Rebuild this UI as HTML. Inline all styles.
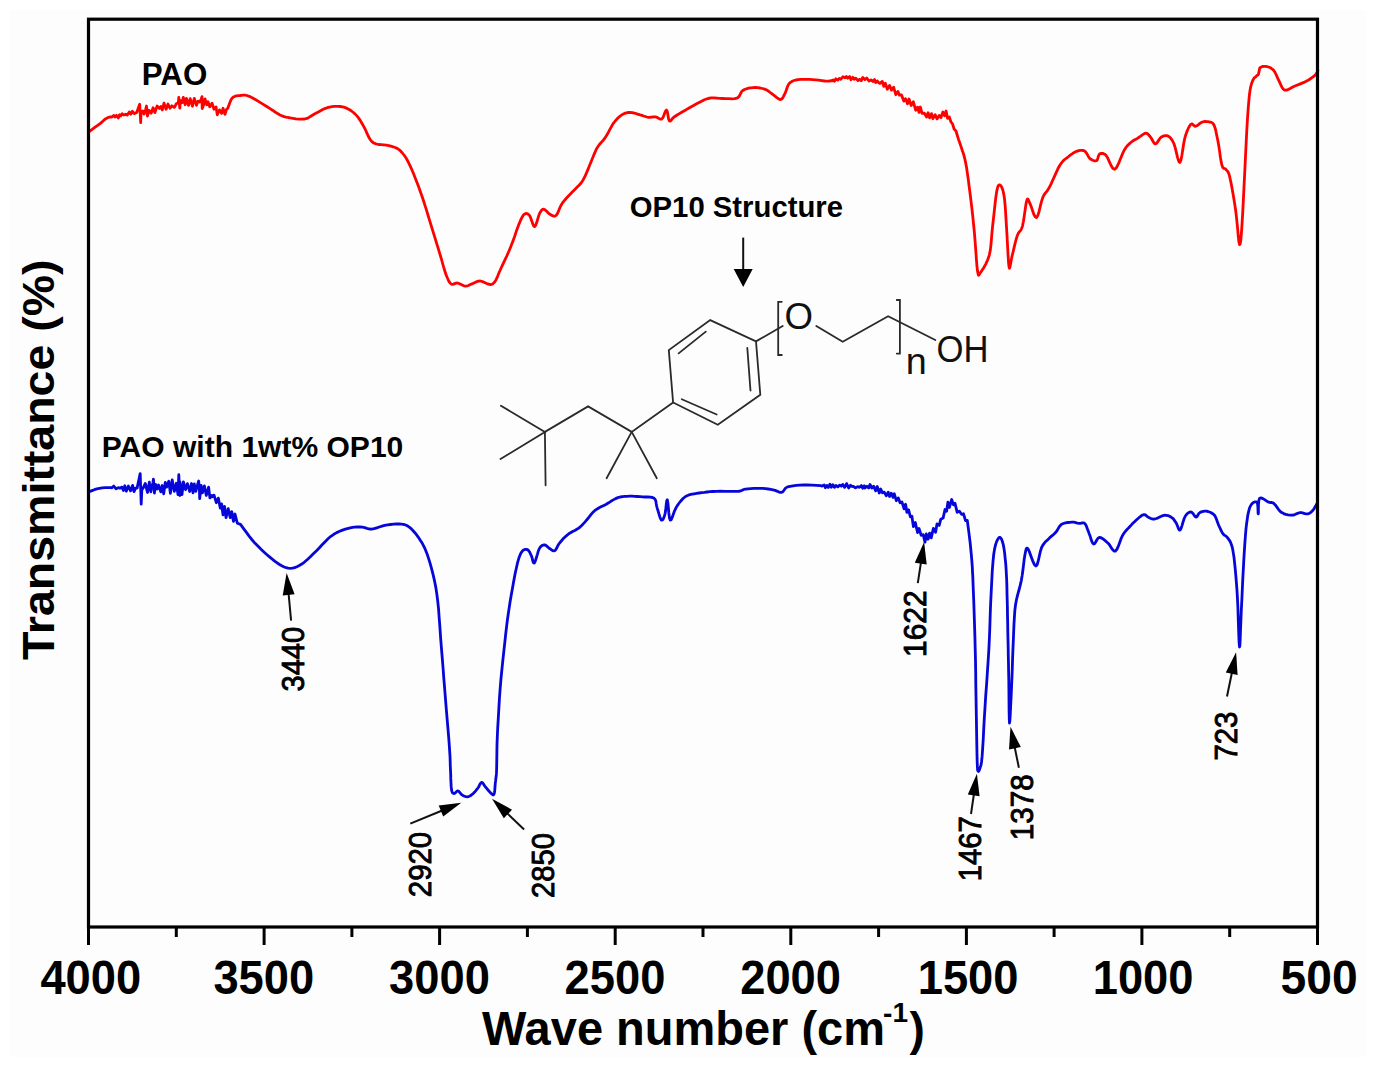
<!DOCTYPE html>
<html><head><meta charset="utf-8"><style>
html,body{margin:0;padding:0;background:#fff;}
svg{display:block;}
</style></head><body>
<svg width="1376" height="1073" viewBox="0 0 1376 1073">
<rect x="0" y="0" width="1376" height="1073" fill="#fff"/><rect x="10" y="10" width="1357" height="1047" fill="#fdfdfd"/>
<g font-family="'Liberation Sans', sans-serif" font-weight="bold" fill="#000">
<text x="141.8" y="84.8" textLength="65.5" lengthAdjust="spacingAndGlyphs" font-size="31">PAO</text>
<text x="101.8" y="457.4" textLength="301.5" lengthAdjust="spacingAndGlyphs" font-size="30">PAO with 1wt% OP10</text>
<text x="629.8" y="217" textLength="213.2" lengthAdjust="spacingAndGlyphs" font-size="29">OP10 Structure</text>
</g>
<path d="M88.6 132.0L90.2 130.8L92.5 129.1L95.1 127.2L97.7 125.3L100.0 123.6L101.8 122.2L103.3 120.8L104.7 119.5L106.3 118.4L108.1 117.5L110.3 116.9L112.0 117.0L113.9 115.4L115.2 117.0L116.5 115.3L118.3 118.0L119.6 114.7L120.9 115.9L122.2 113.7L123.7 115.0L125.5 114.2L127.2 115.1L129.3 112.0L130.8 114.2L132.4 111.3L134.4 113.6L136.7 112.4L139.7 104.2L140.7 122.6L141.0 113.2L142.7 110.9L144.0 114.0L145.5 110.3L146.5 106.0L147.1 112.8L147.5 116.0L149.0 110.3L151.1 113.2L153.1 107.8L154.9 112.6L157.1 106.0L159.4 108.4L160.8 106.5L162.3 109.9L164.0 103.2L166.1 109.3L168.0 104.0L170.0 108.2L171.9 105.8L174.1 107.4L175.0 106.5L176.3 103.7L178.3 102.8L178.8 97.5L179.8 108.0L180.5 100.7L182.1 102.6L183.3 97.4L185.1 104.7L186.4 98.3L188.5 105.4L190.2 98.6L192.4 106.2L194.3 98.3L196.5 105.3L198.0 101.1L199.7 102.1L201.2 99.0L202.0 96.6L202.2 108.5L203.5 105.2L205.0 98.8L206.7 104.9L208.0 101.8L209.7 106.9L212.0 103.2L214.0 109.2L216.0 106.9L217.3 114.8L219.5 109.9L221.7 113.4L223.0 108.3L225.0 114.4L226.5 109.3L227.7 108.4L228.7 105.7L229.8 102.8L230.9 100.1L232.2 98.1L233.6 96.9L235.1 96.2L236.7 95.8L238.3 95.6L240.0 95.5L241.6 95.3L243.2 95.1L244.9 95.1L246.8 95.5L249.2 96.3L252.2 97.8L255.8 99.8L259.6 102.1L263.3 104.4L266.7 106.5L269.7 108.4L272.5 110.2L275.1 112.0L277.6 113.6L280.0 114.9L282.2 115.9L284.1 116.6L286.0 117.1L288.0 117.5L290.3 117.9L293.0 118.3L295.9 118.8L299.0 119.1L301.9 119.2L304.6 119.0L306.9 118.4L308.9 117.4L310.8 116.2L312.8 115.0L314.9 113.8L317.2 112.6L319.7 111.2L322.3 109.8L324.8 108.6L327.2 107.7L329.6 107.1L331.9 106.6L334.2 106.4L336.4 106.3L338.5 106.3L340.5 106.5L342.3 106.8L344.1 107.2L345.9 107.9L347.7 108.7L349.6 109.8L351.5 111.0L353.4 112.5L355.2 114.1L356.9 115.9L358.5 117.9L360.0 120.1L361.4 122.4L362.8 124.8L364.1 127.2L365.4 129.7L366.6 132.4L367.8 135.1L369.0 137.5L370.2 139.5L371.3 140.9L372.4 142.0L373.5 142.8L374.8 143.4L376.4 144.0L378.5 144.5L381.0 144.7L383.6 144.9L386.3 145.2L388.7 145.6L390.9 146.2L393.1 146.8L395.1 147.5L397.1 148.4L399.0 149.7L400.8 151.2L402.4 153.0L404.0 155.0L405.6 157.3L407.2 160.0L408.8 163.1L410.5 166.6L412.1 170.3L413.8 174.3L415.4 178.4L417.0 182.6L418.7 186.9L420.3 191.5L422.0 196.2L423.6 201.0L425.2 206.1L426.9 211.4L428.5 216.8L430.2 222.3L431.8 227.7L433.5 233.1L435.2 238.6L436.9 244.1L438.5 249.4L440.0 254.3L441.4 259.0L442.6 263.5L443.8 267.7L445.0 271.5L446.1 274.8L447.2 277.5L448.2 279.8L449.1 281.6L450.1 283.0L451.2 284.0L452.3 284.4L453.5 284.1L454.7 283.6L456.0 283.1L457.4 283.0L458.9 283.4L460.6 284.2L462.3 285.1L464.0 285.8L465.6 286.1L467.1 285.9L468.5 285.5L469.9 284.8L471.4 284.1L472.8 283.5L474.2 282.9L475.5 282.2L476.9 281.6L478.5 281.1L480.3 281.0L482.5 281.6L485.1 282.7L487.7 283.9L490.3 284.6L492.6 284.1L494.5 282.3L496.1 279.6L497.6 276.3L499.1 272.5L500.8 268.7L502.7 264.6L504.8 260.2L507.0 255.5L509.1 250.7L511.0 246.1L512.8 241.4L514.6 236.5L516.2 231.6L517.8 227.3L519.2 223.6L520.4 220.7L521.5 218.4L522.4 216.6L523.3 215.3L524.3 214.3L525.3 213.7L526.4 213.5L527.4 213.7L528.5 214.4L529.5 215.4L530.5 217.4L531.5 220.3L532.6 223.4L533.6 225.8L534.6 226.6L535.6 225.4L536.7 222.6L537.7 219.1L538.7 215.8L539.7 213.3L540.6 211.7L541.3 210.6L542.1 209.7L542.9 209.3L543.8 209.2L544.9 209.7L546.1 210.8L547.4 212.1L548.7 213.4L550.0 214.3L551.2 215.0L552.4 215.7L553.7 216.1L554.9 216.1L556.1 215.4L557.3 213.8L558.4 211.4L559.5 208.6L560.8 205.7L562.3 203.1L564.1 200.8L566.1 198.5L568.2 196.3L570.4 194.0L572.5 191.8L574.6 189.7L576.7 187.6L578.8 185.5L580.9 183.2L582.8 180.5L584.6 177.2L586.3 173.4L588.0 169.4L589.5 165.5L591.0 162.0L592.3 158.8L593.5 155.8L594.7 152.9L595.9 150.2L597.2 147.7L598.7 145.4L600.3 143.5L602.0 141.6L603.7 139.7L605.4 137.4L607.0 134.7L608.7 131.7L610.3 128.6L612.0 125.6L613.6 123.1L615.2 121.0L616.9 119.1L618.5 117.5L620.2 116.1L621.8 114.9L623.4 114.0L625.0 113.2L626.6 112.8L628.2 112.5L630.0 112.4L631.9 112.6L634.0 113.0L636.2 113.7L638.3 114.3L640.2 114.9L642.0 115.4L643.7 116.0L645.3 116.5L646.9 117.0L648.4 117.3L649.9 117.4L651.4 117.2L652.8 117.0L654.2 116.9L655.6 116.9L656.9 117.3L658.2 118.1L659.5 118.8L660.7 119.2L661.8 119.0L662.9 117.6L663.9 115.3L664.8 112.8L665.7 110.8L666.5 110.1L667.2 111.3L667.7 113.8L668.2 116.8L668.7 119.5L669.4 121.0L670.1 121.2L670.8 120.6L671.7 119.5L672.8 118.1L674.5 116.7L676.7 115.3L679.4 113.6L682.5 111.7L685.8 109.9L689.1 108.0L692.7 106.0L696.6 103.8L700.6 101.7L704.4 99.8L708.0 98.5L711.2 97.9L714.1 97.8L716.9 98.1L719.7 98.4L722.5 98.5L725.5 98.6L728.7 98.7L731.8 98.8L734.7 98.6L737.0 98.1L738.6 97.0L739.7 95.4L740.6 93.5L741.5 91.8L742.8 90.5L744.5 89.5L746.5 88.8L748.6 88.2L750.8 87.8L753.0 87.6L755.3 87.5L757.7 87.7L760.2 88.0L762.5 88.5L764.7 89.1L766.7 90.0L768.5 91.2L770.2 92.5L771.8 93.7L773.4 94.9L775.0 96.1L776.5 97.3L778.0 98.5L779.4 99.3L780.6 99.5L781.7 99.0L782.6 98.0L783.4 96.6L784.2 95.0L785.0 93.4L785.8 91.5L786.6 89.3L787.3 87.1L788.2 85.0L789.4 83.3L790.8 82.1L792.3 81.2L794.0 80.5L795.9 80.0L798.1 79.6L800.6 79.3L803.5 79.3L806.5 79.3L809.6 79.4L812.6 79.6L815.6 79.9L818.6 80.2L821.7 80.6L824.6 81.0L827.2 81.1L829.5 81.0L831.6 80.7L832.0 80.9L833.2 79.9L834.5 81.3L835.8 78.8L837.8 80.1L839.3 78.4L840.8 79.2L842.9 76.8L845.1 77.8L846.4 76.5L847.7 78.2L849.7 76.6L851.0 79.7L852.8 77.3L854.1 79.3L855.8 78.1L858.0 80.6L859.5 79.2L861.1 80.8L862.8 77.4L864.8 79.6L866.8 78.1L869.0 81.0L871.0 79.9L872.9 81.5L874.5 79.6L875.7 82.6L877.2 80.9L879.1 83.2L880.0 83.4L882.3 81.4L883.8 86.4L885.3 83.3L887.3 89.2L889.5 85.4L891.5 90.1L893.6 87.2L895.8 94.7L897.9 91.4L899.4 95.1L901.5 94.9L903.8 101.1L905.5 98.7L907.5 103.7L909.0 99.0L911.2 105.5L913.3 101.7L915.7 110.2L917.6 107.1L919.0 112.4L920.3 107.0L922.1 113.4L924.4 113.2L926.6 117.0L928.1 112.7L929.6 117.9L931.5 113.6L932.9 118.7L935.1 114.7L937.0 118.9L939.2 115.4L941.0 117.6L942.9 112.0L944.6 115.8L946.1 111.0L947.5 118.3L949.3 116.9L950.9 121.8L952.7 124.3L954.1 129.0L956.0 131.0L958.5 139.4L959.3 141.5L960.0 143.5L960.7 145.6L961.5 148.0L962.3 150.5L963.2 153.0L964.0 155.7L964.8 158.9L965.7 162.9L966.6 167.8L967.4 173.4L968.3 179.6L969.1 186.1L970.0 192.9L970.9 200.1L971.8 207.7L972.7 215.6L973.5 223.6L974.3 231.5L975.0 240.0L975.7 249.1L976.3 258.0L976.9 265.6L977.5 271.1L978.1 274.1L978.5 275.2L979.0 274.9L979.7 273.8L980.7 272.2L982.2 270.1L984.0 267.2L986.0 263.6L987.8 259.5L989.3 255.1L990.3 250.3L990.9 245.1L991.4 239.5L991.9 233.5L992.5 227.2L993.3 220.0L994.2 211.8L995.1 203.5L996.0 196.2L996.8 190.8L997.6 187.5L998.3 185.6L999.0 184.8L999.8 184.9L1000.5 185.4L1001.3 186.4L1002.1 188.0L1002.9 190.3L1003.6 193.4L1004.3 197.2L1004.8 201.9L1005.3 207.4L1005.7 213.6L1006.1 220.3L1006.5 227.2L1007.0 235.3L1007.5 244.8L1008.0 254.1L1008.5 262.0L1009.0 266.9L1009.5 268.3L1010.0 267.1L1010.5 264.3L1011.1 260.7L1011.8 257.2L1012.7 253.5L1013.8 248.9L1014.9 244.1L1016.1 239.5L1017.2 235.8L1018.3 233.4L1019.4 231.8L1020.5 230.6L1021.5 228.9L1022.5 226.1L1023.4 221.5L1024.3 215.6L1025.2 209.4L1026.0 203.9L1026.8 200.4L1027.5 199.0L1028.0 199.1L1028.5 200.2L1029.2 201.8L1030.0 203.6L1031.1 206.3L1032.4 210.1L1033.7 214.0L1035.2 216.8L1036.5 217.6L1037.8 215.6L1039.1 211.4L1040.3 206.2L1041.6 201.1L1042.9 197.2L1044.1 194.8L1045.3 193.2L1046.4 191.8L1047.7 190.1L1049.3 187.5L1051.2 183.6L1053.4 178.7L1055.7 173.6L1057.9 168.8L1060.0 165.0L1061.9 162.4L1063.6 160.4L1065.3 159.0L1066.9 157.8L1068.6 156.5L1070.3 155.1L1072.1 153.9L1073.8 152.7L1075.6 151.8L1077.2 151.1L1078.8 150.6L1080.4 150.4L1081.9 150.3L1083.4 150.5L1084.7 151.1L1085.9 152.2L1086.9 153.8L1087.9 155.6L1088.9 157.3L1090.0 158.6L1091.3 159.5L1092.7 160.3L1094.1 160.8L1095.4 160.9L1096.5 160.7L1097.3 159.8L1097.9 158.2L1098.3 156.4L1098.9 154.9L1099.7 153.9L1100.7 153.5L1101.9 153.3L1103.2 153.5L1104.6 154.2L1106.1 155.4L1107.7 157.9L1109.3 161.7L1111.1 165.5L1112.9 168.4L1114.7 169.3L1116.6 167.4L1118.6 163.4L1120.6 158.5L1122.6 153.6L1124.3 150.0L1125.8 147.7L1127.1 146.0L1128.3 144.7L1129.5 143.6L1130.8 142.5L1132.2 141.4L1133.5 140.5L1134.9 139.7L1136.3 139.0L1137.8 138.1L1139.4 137.0L1141.0 135.8L1142.7 134.6L1144.3 133.6L1145.7 133.2L1146.9 133.4L1147.8 134.0L1148.7 134.9L1149.6 136.0L1150.5 137.1L1151.5 138.5L1152.4 140.3L1153.4 142.0L1154.4 143.4L1155.4 143.9L1156.5 143.3L1157.6 141.9L1158.8 140.1L1160.0 138.3L1161.3 137.1L1162.6 136.4L1164.0 135.9L1165.5 135.6L1166.9 135.6L1168.2 136.1L1169.4 136.9L1170.6 138.1L1171.7 139.6L1172.9 141.5L1174.0 143.9L1175.2 147.6L1176.4 152.6L1177.6 157.6L1178.8 161.4L1179.9 162.5L1180.9 160.2L1181.9 155.3L1182.8 149.2L1183.8 143.0L1184.8 138.1L1185.9 134.4L1187.1 131.1L1188.4 128.2L1189.6 126.0L1190.7 124.4L1191.7 123.9L1192.6 124.3L1193.6 125.2L1194.5 126.1L1195.6 126.3L1196.8 125.8L1198.2 124.8L1199.6 123.7L1201.0 122.7L1202.4 122.0L1203.8 121.7L1205.3 121.5L1206.7 121.6L1208.1 121.7L1209.3 122.0L1210.4 122.2L1211.4 122.4L1212.3 122.9L1213.2 123.7L1214.1 125.3L1215.0 127.7L1215.8 130.7L1216.5 134.2L1217.3 138.0L1218.1 142.0L1218.9 146.6L1219.7 151.9L1220.4 157.2L1221.2 161.9L1222.0 165.5L1222.8 167.5L1223.6 168.3L1224.3 168.5L1225.1 168.7L1225.9 169.4L1226.6 170.3L1227.4 171.0L1228.1 172.1L1228.9 173.9L1229.8 177.2L1230.9 182.2L1232.1 188.6L1233.4 195.9L1234.6 203.4L1235.7 210.5L1236.6 218.3L1237.5 227.1L1238.2 235.5L1238.9 241.9L1239.6 244.7L1240.2 243.8L1240.8 240.2L1241.3 234.3L1241.9 226.2L1242.5 216.3L1243.2 203.3L1244.0 186.9L1244.9 169.2L1245.7 152.3L1246.4 138.1L1247.0 126.8L1247.6 117.0L1248.2 108.6L1248.8 101.3L1249.4 95.0L1250.1 89.9L1250.8 86.3L1251.6 83.5L1252.4 81.4L1253.3 79.4L1254.3 77.8L1255.0 77.4L1256.5 75.9L1258.4 74.5L1259.8 67.7L1261.3 67.1L1262.5 66.5L1264.0 66.4L1265.5 66.4L1267.0 66.6L1268.4 67.0L1269.8 67.5L1271.2 68.3L1272.6 69.3L1273.8 70.5L1274.9 72.1L1275.8 74.0L1276.8 76.1L1277.7 78.2L1278.7 80.3L1279.8 82.5L1280.8 84.9L1281.9 87.2L1283.2 89.0L1284.6 90.1L1286.3 90.2L1288.1 89.6L1290.2 88.5L1292.3 87.3L1294.4 86.2L1296.7 85.3L1299.1 84.4L1301.5 83.4L1303.9 82.4L1306.1 81.3L1308.1 80.2L1310.1 79.0L1311.9 77.7L1313.6 76.5L1314.9 75.4L1315.9 74.3L1316.7 73.1L1317.2 72.1L1317.6 71.2L1317.9 70.5" fill="none" stroke="#ff0000" stroke-width="2.8" stroke-linejoin="round" stroke-linecap="round"/>
<path d="M88.6 492.0L90.0 491.4L92.0 490.6L94.4 489.7L96.9 488.9L99.5 488.3L102.2 487.9L105.1 487.7L108.1 487.6L111.1 487.6L112.0 487.8L113.8 486.1L116.1 488.8L118.3 487.7L119.9 488.2L122.0 487.1L123.4 490.5L124.8 485.8L126.3 491.2L128.4 486.0L130.6 490.8L132.6 485.4L134.0 491.6L135.5 488.1L137.1 488.1L140.2 473.6L141.2 504.2L141.9 487.9L143.0 488.4L145.3 483.4L147.5 492.5L149.3 482.2L150.9 491.8L153.0 482.2L153.4 479.2L154.3 489.0L154.4 493.0L155.5 484.3L157.1 489.1L158.5 485.0L160.8 491.8L162.2 485.5L163.7 493.8L165.3 482.4L166.7 487.1L168.8 481.3L170.4 493.3L172.2 479.9L174.3 491.4L176.3 483.3L178.0 494.6L178.8 474.7L179.8 495.5L179.9 481.8L182.0 494.5L183.4 482.0L185.6 489.7L187.4 483.7L189.7 491.5L191.5 483.5L193.0 492.8L194.3 483.9L195.8 491.4L197.9 483.4L198.7 481.0L199.5 491.1L199.7 498.6L201.1 485.3L202.4 492.8L204.4 485.9L206.3 495.5L208.6 487.1L209.9 497.8L211.7 495.4L212.0 496.8L214.0 495.2L216.3 502.7L218.3 498.1L220.3 508.2L221.6 503.9L223.0 514.9L224.5 506.3L226.0 517.6L228.2 508.6L230.2 517.6L231.7 511.6L233.5 521.4L235.0 514.0L237.3 523.2L240.5 524.4L243.4 528.3L246.4 532.4L249.3 536.4L252.2 540.0L255.1 543.3L258.1 546.3L261.0 549.2L263.9 551.9L266.7 554.5L269.5 556.9L272.3 559.2L275.0 561.3L277.6 563.2L280.0 564.7L282.2 566.0L284.2 567.0L286.2 567.7L288.1 568.2L290.2 568.3L292.4 568.1L294.6 567.6L296.9 566.7L299.3 565.5L301.8 564.0L304.5 562.0L307.4 559.5L310.4 556.7L313.3 553.8L316.3 550.9L319.2 548.0L322.1 544.8L325.1 541.7L328.0 538.8L330.9 536.3L333.8 534.3L336.7 532.6L339.6 531.3L342.5 530.1L345.4 529.1L348.3 528.3L351.3 527.6L354.3 527.2L357.2 527.0L359.9 526.9L362.4 527.2L364.7 527.7L367.0 528.4L369.2 529.0L371.6 529.1L374.1 528.7L376.7 527.9L379.3 527.0L382.0 526.1L384.7 525.4L387.6 524.9L390.7 524.5L393.8 524.2L396.6 524.0L399.2 524.0L401.3 524.1L403.1 524.3L404.7 524.7L406.3 525.3L407.9 526.2L409.6 527.4L411.4 528.9L413.1 530.7L414.9 532.7L416.6 534.9L418.4 537.3L420.1 539.9L421.9 542.7L423.6 545.8L425.3 549.4L426.9 553.4L428.4 557.9L429.9 562.7L431.3 567.6L432.6 572.7L433.8 577.6L434.8 582.3L435.8 587.3L436.7 593.1L437.6 600.0L438.5 608.4L439.2 618.0L440.0 628.3L440.7 638.8L441.5 648.9L442.3 658.7L443.1 668.5L443.8 678.2L444.6 688.0L445.4 697.8L446.2 708.0L447.1 718.6L448.0 729.1L448.8 738.6L449.4 746.8L449.8 753.1L450.1 758.1L450.2 762.2L450.3 766.0L450.5 770.0L450.7 774.4L450.8 778.9L451.0 783.1L451.2 786.7L451.5 789.6L451.9 791.5L452.4 792.6L452.9 793.2L453.5 793.4L454.1 793.5L454.8 793.3L455.6 792.6L456.4 791.8L457.2 791.1L458.0 790.9L458.8 791.3L459.5 792.1L460.3 793.1L461.1 794.1L462.0 794.9L463.0 795.5L464.0 796.0L465.1 796.5L466.1 796.7L467.2 796.8L468.2 796.6L469.3 796.2L470.3 795.7L471.4 795.0L472.4 794.2L473.5 793.2L474.6 792.1L475.7 790.8L476.7 789.5L477.7 788.3L478.6 787.0L479.4 785.4L480.1 784.0L480.8 782.9L481.6 782.4L482.4 782.6L483.1 783.4L483.8 784.6L484.6 785.8L485.5 787.0L486.5 788.2L487.6 789.5L488.7 790.8L489.8 792.0L490.7 792.9L491.5 793.7L492.3 794.3L492.9 794.8L493.5 794.8L494.0 794.2L494.4 792.8L494.7 790.7L494.9 788.3L495.1 785.6L495.3 783.1L495.6 780.9L495.8 779.0L496.1 776.8L496.4 773.9L496.6 770.0L496.7 764.9L496.8 759.0L496.9 752.3L497.0 744.9L497.3 737.0L497.7 728.1L498.3 718.1L498.9 707.7L499.5 697.5L500.2 688.1L500.9 679.6L501.7 671.5L502.5 663.7L503.3 656.2L504.1 648.9L504.9 641.7L505.6 634.8L506.4 628.1L507.2 621.5L508.1 615.0L509.1 608.4L510.1 601.8L511.2 595.3L512.3 589.2L513.3 583.4L514.3 578.0L515.3 572.8L516.4 568.0L517.3 563.7L518.3 560.1L519.2 557.2L520.1 554.9L520.9 553.2L521.8 551.8L522.7 550.7L523.7 549.9L524.8 549.4L525.8 549.3L526.9 549.5L527.8 549.9L528.6 550.6L529.4 551.7L530.1 553.0L530.7 554.4L531.4 555.8L532.0 557.5L532.5 559.6L533.0 561.6L533.6 562.9L534.3 563.0L535.2 561.3L536.2 558.2L537.3 554.6L538.3 551.0L539.4 548.5L540.4 547.0L541.4 545.9L542.5 545.3L543.5 545.0L544.5 544.9L545.5 545.2L546.5 545.9L547.6 546.8L548.6 547.8L549.6 548.5L550.6 549.2L551.6 550.0L552.7 550.6L553.7 550.9L554.7 550.7L555.7 549.8L556.6 548.3L557.5 546.4L558.5 544.5L559.8 542.7L561.3 541.0L562.9 539.1L564.7 537.3L566.6 535.6L568.5 534.0L570.5 532.7L572.6 531.5L574.8 530.4L576.8 529.3L578.7 528.1L580.3 526.8L581.7 525.5L583.0 524.1L584.4 522.6L585.9 520.9L587.5 519.0L589.2 516.9L590.9 514.7L592.7 512.6L594.7 510.7L596.8 509.2L599.1 507.8L601.5 506.6L603.9 505.4L606.3 504.2L608.6 502.8L610.9 501.3L613.3 499.9L615.6 498.6L617.9 497.6L620.2 497.0L622.5 496.6L624.8 496.4L627.1 496.3L629.5 496.2L632.0 496.2L634.7 496.3L637.4 496.5L640.1 496.7L642.6 496.9L645.2 497.0L647.8 497.0L650.3 497.1L652.5 497.5L654.2 498.3L655.3 499.6L655.9 501.4L656.2 503.4L656.6 505.6L657.1 507.8L657.9 510.4L658.8 513.4L659.7 516.4L660.6 518.8L661.5 520.1L662.3 520.1L663.1 519.2L663.8 517.6L664.5 515.7L665.1 513.6L665.6 510.8L666.0 507.0L666.4 503.2L666.8 500.5L667.3 499.8L667.8 502.2L668.3 507.0L668.8 512.7L669.4 517.6L670.2 520.1L671.2 519.7L672.2 517.4L673.4 514.1L674.7 510.6L676.0 507.8L677.4 505.6L678.8 503.5L680.4 501.5L681.9 499.8L683.3 498.3L684.6 497.2L685.8 496.4L687.0 495.7L688.3 495.2L690.0 494.7L692.0 494.2L694.2 493.8L696.6 493.4L699.2 493.0L701.8 492.7L704.4 492.4L707.1 492.0L709.8 491.7L712.9 491.5L716.3 491.3L720.4 491.2L725.2 491.3L730.1 491.4L734.6 491.4L738.1 491.3L740.4 491.0L741.7 490.5L742.7 490.0L743.7 489.5L745.4 489.1L747.9 488.8L750.7 488.6L753.9 488.4L757.0 488.3L759.9 488.3L762.7 488.4L765.5 488.7L768.1 489.0L770.7 489.4L773.0 489.8L775.1 490.4L776.9 491.1L778.6 491.8L780.2 492.3L781.7 492.3L782.9 491.7L783.8 490.5L784.7 489.2L785.8 487.9L787.6 486.9L790.0 486.3L793.0 485.8L796.2 485.4L799.8 485.1L803.5 485.0L807.5 485.0L811.9 485.2L816.4 485.4L820.9 485.7L822.0 486.1L824.2 485.0L825.4 487.8L826.9 485.5L828.3 487.4L830.0 484.2L831.3 487.3L832.9 484.6L834.4 487.4L835.9 485.5L837.8 486.9L839.7 485.1L841.3 486.2L842.8 484.4L844.7 487.4L846.6 483.6L848.7 488.0L850.5 485.2L851.8 486.4L853.5 486.5L855.5 487.8L857.6 486.7L859.5 487.3L861.4 485.6L862.7 488.2L864.3 485.8L865.0 488.0L866.9 486.2L868.7 488.0L870.0 484.5L871.8 488.0L873.6 486.2L875.7 490.8L877.2 486.5L879.3 493.0L880.7 489.0L882.5 492.8L884.2 492.1L886.3 495.8L888.2 492.2L889.6 496.5L891.2 493.2L893.1 497.4L894.3 493.8L896.3 500.7L898.3 497.9L900.1 502.8L901.9 501.9L904.1 508.9L905.6 504.3L906.9 512.4L908.6 509.8L910.4 516.9L911.9 516.3L913.4 526.6L915.3 522.5L917.6 532.6L919.0 528.5L921.2 535.3L923.2 534.6L925.0 542.2L926.3 534.0L928.1 539.2L929.6 533.2L931.2 537.9L933.4 528.4L935.6 532.2L937.0 524.0L939.2 525.4L940.8 519.2L943.1 518.1L945.0 509.5L946.6 511.3L947.9 502.1L949.4 507.5L951.7 499.5L953.5 504.9L955.0 503.3L957.2 512.3L959.3 511.1L961.6 514.3L963.5 513.8L965.5 520.5L967.3 520.5L968.8 531.9L970.2 543.2L970.8 549.4L971.4 555.7L971.9 561.7L972.3 566.9L972.5 571.6L972.8 576.5L973.0 582.4L973.3 590.0L973.7 599.8L974.1 611.3L974.5 623.8L974.9 636.5L975.2 648.7L975.5 660.5L975.7 672.4L975.8 684.3L976.0 696.0L976.2 707.5L976.4 719.4L976.6 731.8L976.8 743.7L977.0 754.1L977.2 762.0L977.4 766.9L977.6 769.5L977.7 770.5L977.9 770.8L978.2 771.1L978.5 771.4L978.8 771.1L979.2 770.4L979.6 769.4L980.0 768.0L980.4 766.8L980.8 765.8L981.2 764.1L981.6 761.2L982.1 756.4L982.6 749.2L983.2 740.0L983.7 729.6L984.3 718.5L985.0 707.5L985.7 696.2L986.6 684.2L987.4 672.0L988.2 660.0L988.9 648.7L989.4 638.3L989.8 628.3L990.1 618.8L990.4 609.4L990.8 600.0L991.3 590.2L991.8 580.2L992.3 570.5L993.0 561.7L993.7 554.5L994.6 548.9L995.6 544.6L996.7 541.4L997.8 539.2L998.8 537.8L999.7 537.3L1000.7 537.9L1001.6 539.3L1002.4 541.5L1003.2 544.3L1003.9 548.0L1004.6 552.6L1005.1 557.8L1005.7 563.4L1006.1 569.0L1006.4 574.7L1006.7 580.5L1006.9 586.6L1007.0 593.1L1007.2 600.0L1007.4 607.4L1007.5 615.4L1007.7 623.6L1007.8 631.9L1008.0 640.0L1008.2 648.0L1008.3 655.9L1008.5 663.8L1008.6 671.8L1008.8 680.0L1008.9 689.7L1009.0 700.8L1009.1 711.3L1009.3 719.4L1009.5 723.1L1009.8 721.3L1010.2 715.3L1010.6 706.7L1011.1 697.1L1011.5 687.9L1011.9 678.7L1012.3 668.6L1012.6 658.1L1013.0 648.0L1013.4 638.9L1013.7 631.0L1014.0 623.8L1014.4 617.2L1014.8 610.9L1015.5 605.0L1016.5 599.5L1017.7 594.6L1019.0 590.0L1020.2 585.4L1021.3 580.6L1022.2 575.2L1023.0 569.3L1023.7 563.6L1024.3 558.4L1025.0 554.5L1025.5 551.7L1026.0 549.6L1026.4 548.4L1027.0 548.1L1027.9 548.7L1029.2 551.3L1030.8 555.7L1032.6 560.6L1034.4 564.6L1035.9 566.1L1037.2 564.5L1038.3 560.7L1039.4 555.8L1040.5 550.9L1041.7 547.2L1043.1 544.8L1044.5 542.9L1046.0 541.3L1047.5 539.9L1049.0 538.5L1050.4 537.1L1051.8 535.9L1053.2 534.8L1054.5 533.6L1055.8 532.3L1057.0 530.7L1058.0 528.9L1059.0 527.2L1060.2 525.6L1061.6 524.3L1063.4 523.5L1065.5 522.9L1067.7 522.5L1069.9 522.3L1071.8 522.2L1073.5 522.2L1075.0 522.4L1076.4 522.8L1077.8 523.1L1079.1 523.3L1080.4 523.3L1081.6 523.0L1082.8 522.8L1083.9 522.9L1084.9 523.6L1085.9 525.0L1086.7 527.0L1087.5 529.2L1088.4 531.6L1089.2 533.8L1090.1 536.1L1090.9 538.7L1091.7 541.1L1092.6 543.0L1093.6 544.0L1094.6 543.6L1095.7 542.0L1096.8 540.0L1098.0 538.2L1099.4 537.4L1101.0 537.7L1102.7 538.7L1104.6 540.1L1106.4 541.7L1108.1 543.2L1109.6 545.0L1111.1 547.4L1112.5 549.6L1114.0 551.1L1115.4 551.2L1116.9 549.4L1118.3 546.2L1119.8 542.2L1121.2 538.3L1122.7 535.2L1124.1 533.0L1125.6 531.1L1127.0 529.5L1128.5 528.0L1129.9 526.5L1131.4 524.9L1132.8 523.3L1134.3 521.9L1135.8 520.5L1137.2 519.2L1138.6 518.0L1140.0 516.8L1141.3 515.8L1142.6 515.0L1143.8 514.6L1144.9 514.7L1145.9 515.3L1146.8 516.1L1147.8 516.9L1148.8 517.5L1149.9 518.0L1150.9 518.5L1152.0 518.8L1153.2 519.1L1154.7 519.0L1156.5 518.5L1158.6 517.6L1160.8 516.5L1162.9 515.6L1164.8 515.2L1166.5 515.3L1168.1 515.6L1169.5 516.2L1170.9 517.0L1172.1 517.8L1173.2 518.7L1174.1 519.9L1174.9 521.1L1175.7 522.3L1176.5 523.6L1177.2 525.2L1177.9 527.1L1178.6 528.9L1179.3 530.1L1180.1 530.1L1181.0 528.5L1182.0 525.6L1183.0 522.1L1184.1 518.8L1185.2 516.3L1186.3 514.7L1187.5 513.4L1188.7 512.6L1189.9 512.1L1191.0 512.0L1192.1 512.6L1193.2 513.8L1194.2 515.3L1195.2 516.5L1196.1 517.1L1196.9 516.8L1197.5 515.9L1198.1 514.7L1198.8 513.5L1199.7 512.7L1200.8 512.1L1202.1 511.6L1203.4 511.3L1204.8 511.1L1206.3 511.2L1207.9 511.5L1209.5 512.0L1211.2 512.7L1212.8 513.7L1214.2 514.9L1215.3 516.5L1216.2 518.6L1217.0 520.8L1217.8 523.1L1218.6 525.1L1219.5 527.0L1220.4 528.9L1221.2 530.8L1222.1 532.4L1223.0 533.8L1223.9 534.8L1224.7 535.4L1225.6 535.9L1226.4 536.5L1227.3 537.4L1228.2 538.6L1229.1 539.9L1230.1 541.4L1230.9 543.2L1231.7 545.4L1232.4 547.9L1232.9 550.5L1233.4 553.6L1234.0 557.3L1234.5 562.0L1235.1 567.6L1235.7 574.1L1236.3 581.3L1236.9 589.1L1237.4 597.4L1237.9 607.8L1238.3 620.4L1238.7 632.7L1239.1 642.4L1239.5 647.0L1239.9 645.4L1240.2 639.3L1240.5 630.3L1240.9 620.1L1241.3 610.4L1241.8 600.7L1242.3 589.8L1242.8 578.6L1243.4 567.8L1243.9 558.3L1244.4 550.1L1244.9 542.7L1245.4 536.0L1245.9 529.9L1246.5 524.4L1247.2 519.5L1247.8 515.3L1248.6 511.6L1249.4 508.6L1250.4 506.1L1251.6 504.1L1253.1 502.8L1254.6 501.9L1256.0 501.8L1257.0 502.2L1257.6 504.0L1257.9 507.1L1258.0 510.4L1258.1 513.1L1258.3 513.9L1258.4 512.2L1258.4 508.7L1258.5 504.4L1258.8 500.6L1259.6 498.3L1261.0 497.9L1262.9 498.6L1265.0 499.9L1267.0 501.3L1268.7 502.2L1269.9 502.5L1270.9 502.5L1271.8 502.5L1272.8 502.8L1273.9 503.5L1275.3 504.9L1276.7 506.9L1278.3 509.1L1279.9 511.1L1281.7 512.6L1283.7 513.6L1285.8 514.4L1288.1 514.8L1290.2 515.1L1292.2 515.2L1293.9 515.0L1295.5 514.3L1297.0 513.6L1298.5 513.0L1300.0 512.6L1301.6 512.7L1303.2 513.1L1304.9 513.6L1306.4 513.9L1307.8 513.9L1309.0 513.5L1310.2 512.8L1311.2 512.0L1312.2 511.0L1313.1 510.0L1314.0 508.8L1314.9 507.3L1315.8 505.8L1316.5 504.4L1317.0 503.5" fill="none" stroke="#0606d8" stroke-width="2.8" stroke-linejoin="round" stroke-linecap="round"/>
<g stroke="#2a2a2a" stroke-width="1.8" fill="none" stroke-linecap="round">
<polyline points="500.9,405.7 544.9,431.9 500.5,459.1"/>
<line x1="544.9" y1="431.9" x2="545.6" y2="485.3"/>
<polyline points="544.9,431.9 588.1,406.4 631.7,431.9 673.1,402.5"/>
<line x1="631.7" y1="431.9" x2="606.6" y2="478.3"/>
<line x1="631.7" y1="431.9" x2="656.8" y2="478.3"/>
<polygon points="673.1,402.5 668.8,350.1 710.2,320.1 756,341.4 760.3,394.8 717.8,424.7"/>
<line x1="678.6" y1="353.4" x2="705.8" y2="331.6"/>
<line x1="747.3" y1="348" x2="750.5" y2="390.5"/>
<line x1="681.8" y1="399.2" x2="716.7" y2="414.5"/>
<line x1="756" y1="341.4" x2="782.7" y2="326"/>
<polyline points="781.8,301.8 778.2,301.8 778.2,355 781.8,355"/>
<polyline points="816.3,326 842.7,341.8 888.1,316.3 935.3,340"/>
<polyline points="896.8,300 899.9,300 899.9,353.6 896.8,353.6"/>
</g>
<g font-family="'Liberation Sans', sans-serif" fill="#111">
<text x="784.6" y="329.3" textLength="28.5" lengthAdjust="spacingAndGlyphs" font-size="37">O</text>
<text x="905.8" y="373.8" textLength="21" lengthAdjust="spacingAndGlyphs" font-size="37">n</text>
<text x="936.5" y="361.5" textLength="52" lengthAdjust="spacingAndGlyphs" font-size="36">OH</text>
</g>
<g><line x1="291.1" y1="620.7" x2="288.5" y2="592.9" stroke="#111" stroke-width="2.0"/><polygon points="286.6,573.0 294.6,594.3 282.7,595.5" fill="#000"/><line x1="410.3" y1="823.6" x2="442.8" y2="810.3" stroke="#111" stroke-width="2.0"/><polygon points="461.3,802.7 443.2,816.6 438.7,805.5" fill="#000"/><line x1="524.1" y1="829.5" x2="506.5" y2="812.6" stroke="#111" stroke-width="2.0"/><polygon points="492.0,798.8 512.0,809.7 503.8,818.3" fill="#000"/><line x1="917.8" y1="583.1" x2="921.1" y2="561.7" stroke="#111" stroke-width="2.0"/><polygon points="924.1,541.9 926.7,564.6 914.8,562.7" fill="#000"/><line x1="971.0" y1="814.0" x2="974.0" y2="793.5" stroke="#111" stroke-width="2.0"/><polygon points="976.9,773.7 979.6,796.3 967.8,794.6" fill="#000"/><line x1="1018.9" y1="767.8" x2="1014.5" y2="746.3" stroke="#111" stroke-width="2.0"/><polygon points="1010.5,726.7 1020.8,747.1 1009.0,749.5" fill="#000"/><line x1="1227.0" y1="696.5" x2="1232.1" y2="671.8" stroke="#111" stroke-width="2.0"/><polygon points="1236.1,652.2 1237.6,675.0 1225.8,672.5" fill="#000"/><line x1="743.2" y1="237.6" x2="743.2" y2="271.0" stroke="#111" stroke-width="2.0"/><polygon points="743.2,287.0 733.7,269.0 752.7,269.0" fill="#000"/></g>
<g font-family="'Liberation Sans', sans-serif" fill="#000" stroke="#000" stroke-width="0.9"><text transform="translate(303.5 691.5) rotate(-90)" x="0" y="0" textLength="64.6" lengthAdjust="spacingAndGlyphs" font-size="31.5">3440</text><text transform="translate(430.6 897.2) rotate(-90)" x="0" y="0" textLength="65.4" lengthAdjust="spacingAndGlyphs" font-size="31.5">2920</text><text transform="translate(553.5 897.9) rotate(-90)" x="0" y="0" textLength="64.8" lengthAdjust="spacingAndGlyphs" font-size="31.5">2850</text><text transform="translate(925.5 656.9) rotate(-90)" x="0" y="0" textLength="66.4" lengthAdjust="spacingAndGlyphs" font-size="31.5">1622</text><text transform="translate(981.1 881.3) rotate(-90)" x="0" y="0" textLength="65.0" lengthAdjust="spacingAndGlyphs" font-size="31.5">1467</text><text transform="translate(1033.2 840.2) rotate(-90)" x="0" y="0" textLength="65.8" lengthAdjust="spacingAndGlyphs" font-size="31.5">1378</text><text transform="translate(1237.0 760.5) rotate(-90)" x="0" y="0" textLength="48.8" lengthAdjust="spacingAndGlyphs" font-size="31.5">723</text></g>
<rect x="88.5" y="19.2" width="1229" height="907.8" fill="none" stroke="#000" stroke-width="3.2"/>
<g stroke="#000" stroke-width="3"><line x1="88.5" y1="927.0" x2="88.5" y2="945.0"/><line x1="176.3" y1="927.0" x2="176.3" y2="937.0"/><line x1="264.1" y1="927.0" x2="264.1" y2="945.0"/><line x1="351.9" y1="927.0" x2="351.9" y2="937.0"/><line x1="439.6" y1="927.0" x2="439.6" y2="945.0"/><line x1="527.4" y1="927.0" x2="527.4" y2="937.0"/><line x1="615.2" y1="927.0" x2="615.2" y2="945.0"/><line x1="703.0" y1="927.0" x2="703.0" y2="937.0"/><line x1="790.8" y1="927.0" x2="790.8" y2="945.0"/><line x1="878.6" y1="927.0" x2="878.6" y2="937.0"/><line x1="966.4" y1="927.0" x2="966.4" y2="945.0"/><line x1="1054.1" y1="927.0" x2="1054.1" y2="937.0"/><line x1="1141.9" y1="927.0" x2="1141.9" y2="945.0"/><line x1="1229.7" y1="927.0" x2="1229.7" y2="937.0"/><line x1="1317.5" y1="927.0" x2="1317.5" y2="945.0"/></g>
<g font-family="'Liberation Sans', sans-serif" font-weight="bold" font-size="49" fill="#000"><text x="90.8" y="994.3" text-anchor="middle" textLength="100.8" lengthAdjust="spacingAndGlyphs">4000</text><text x="263.8" y="994.3" text-anchor="middle" textLength="100.8" lengthAdjust="spacingAndGlyphs">3500</text><text x="439.5" y="994.3" text-anchor="middle" textLength="100.8" lengthAdjust="spacingAndGlyphs">3000</text><text x="615.0" y="994.3" text-anchor="middle" textLength="100.8" lengthAdjust="spacingAndGlyphs">2500</text><text x="790.6" y="994.3" text-anchor="middle" textLength="100.8" lengthAdjust="spacingAndGlyphs">2000</text><text x="968.1" y="994.3" text-anchor="middle" textLength="100.8" lengthAdjust="spacingAndGlyphs">1500</text><text x="1143.1" y="994.3" text-anchor="middle" textLength="100.8" lengthAdjust="spacingAndGlyphs">1000</text><text x="1319.1" y="994.3" text-anchor="middle" textLength="77.1" lengthAdjust="spacingAndGlyphs">500</text></g>
<g font-family="'Liberation Sans', sans-serif" font-weight="bold" fill="#000">
<text x="482" y="1045" textLength="403" lengthAdjust="spacingAndGlyphs" font-size="48">Wave number (cm</text>
<text x="883" y="1023" font-size="28">-</text>
<text x="892.5" y="1022.3" font-size="28">1</text>
<text x="909.5" y="1044.5" font-size="46">)</text>
</g>
<text transform="translate(54.3 660) rotate(-90)" textLength="400.5" lengthAdjust="spacingAndGlyphs" font-family="'Liberation Sans', sans-serif" font-weight="bold" font-size="44">Transmittance (%)</text>
</svg>
</body></html>
